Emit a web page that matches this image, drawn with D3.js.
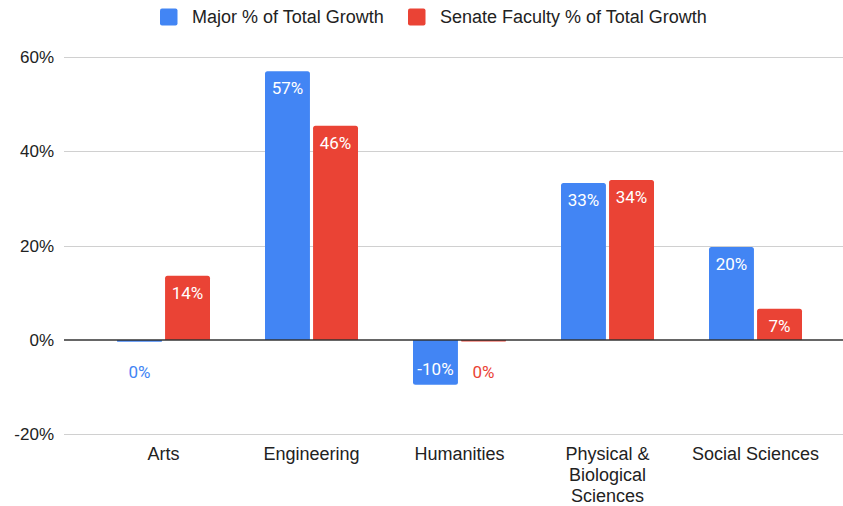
<!DOCTYPE html>
<html>
<head>
<meta charset="utf-8">
<script src="https://cdn.jsdelivr.net/npm/d3@7"></script>
<style>
  html, body { margin: 0; padding: 0; background: #fff; }
  svg { display: block; }
</style>
</head>
<body>
<svg id="chart" width="843" height="506"></svg>
<script>
// Share of total growth by division
const categories = ["Arts", "Engineering", "Humanities", "Physical & Biological Sciences", "Social Sciences"];
const categoryLines = [["Arts"], ["Engineering"], ["Humanities"], ["Physical &", "Biological", "Sciences"], ["Social Sciences"]];
const seriesNames = ["Major % of Total Growth", "Senate Faculty % of Total Growth"];
const majorValues = [-0.4, 57.0, -9.5, 33.3, 19.7];
const facultyValues = [13.6, 45.4, -0.2, 33.9, 6.6];
const labels = {
  major: ["0%", "57%", "-10%", "33%", "20%"],
  faculty: ["14%", "46%", "0%", "34%", "7%"]
};
const yTicks = [-20, 0, 20, 40, 60];
const colors = ["#4285F4", "#EA4335"];

const svg = d3.select("#chart");
const axisFont = "'Liberation Sans', Arial, sans-serif";
const labelFont = "Roboto, 'Noto Sans', sans-serif";

const y = d3.scaleLinear().domain([-20, 60]).range([434.3, 57]);
const x = d3.scaleBand().domain(categories).range([89.5, 829.5]).paddingInner(0).paddingOuter(0);
const xs = d3.scaleBand().domain([0, 1]).range([-46.5, 46.5]).paddingInner(0.065);

// Gridlines
const gridLeft = 64, gridRight = 843;
svg.append("g").selectAll("line").data(yTicks.filter(t => t !== 0)).join("line")
  .attr("x1", gridLeft).attr("x2", gridRight)
  .attr("y1", d => Math.round(y(d)) + 0.5).attr("y2", d => Math.round(y(d)) + 0.5)
  .attr("stroke", "#d0d0d0").attr("stroke-width", 1);

// Y tick labels
svg.append("g").selectAll("text").data(yTicks).join("text")
  .attr("x", 54).attr("y", d => y(d))
  .attr("dy", "0.35em")
  .attr("text-anchor", "end")
  .attr("font-family", axisFont).attr("font-size", 17).attr("fill", "#222")
  .text(d => d + "%");

// Bars
const rows = categories.map((c, i) => ({ c, i, vals: [majorValues[i], facultyValues[i]], labs: [labels.major[i], labels.faculty[i]] }));
const flat = [];
rows.forEach(r => r.vals.forEach((v, s) => flat.push({ c: r.c, s, v, lab: r.labs[s] })));

function barPath(x0, w, v) {
  const y0 = y(0), y1 = y(v);
  const h = Math.max(Math.abs(y1 - y0), 1.5);
  const r = Math.min(2.5, h / 2, w / 2);
  if (v >= 0) {
    return `M${x0},${y0} V${y0 - h + r} Q${x0},${y0 - h} ${x0 + r},${y0 - h} H${x0 + w - r} Q${x0 + w},${y0 - h} ${x0 + w},${y0 - h + r} V${y0} Z`;
  } else {
    return `M${x0},${y0} V${y0 + h - r} Q${x0},${y0 + h} ${x0 + r},${y0 + h} H${x0 + w - r} Q${x0 + w},${y0 + h} ${x0 + w},${y0 + h - r} V${y0} Z`;
  }
}

svg.append("g").selectAll("path").data(flat).join("path")
  .attr("d", d => barPath(x(d.c) + x.bandwidth() / 2 + xs(d.s), xs.bandwidth(), d.v))
  .attr("fill", d => colors[d.s]);

// Zero line
svg.append("line")
  .attr("x1", gridLeft).attr("x2", gridRight)
  .attr("y1", y(0)).attr("y2", y(0))
  .attr("stroke", "#333").attr("stroke-width", 1.3);

// Value labels
svg.append("g").selectAll("text").data(flat).join("text")
  .attr("x", d => x(d.c) + x.bandwidth() / 2 + xs(d.s) + xs.bandwidth() / 2)
  .attr("y", d => {
    const h = Math.abs(y(d.v) - y(0));
    if (h > 25) return d.v >= 0 ? y(d.v) + 17 : y(d.v) - 16;
    return d.v >= 0 ? y(d.v) - 16 : y(0) + 32;
  })
  .attr("dy", "0.35em")
  .attr("text-anchor", "middle")
  .attr("font-family", labelFont).attr("font-size", 17)
  .attr("fill", d => Math.abs(y(d.v) - y(0)) > 25 ? "#fff" : colors[d.s])
  .text(d => d.lab);

// Category labels
const catG = svg.append("g").selectAll("text").data(categories).join("text")
  .attr("x", d => x(d) + x.bandwidth() / 2)
  .attr("y", 454)
  .attr("text-anchor", "middle")
  .attr("font-family", axisFont).attr("font-size", 18).attr("fill", "#222");
catG.each(function(d, i) {
  d3.select(this).selectAll("tspan").data(categoryLines[i]).join("tspan")
    .attr("x", x(d) + x.bandwidth() / 2)
    .attr("dy", (t, j) => j === 0 ? "0.35em" : "21")
    .text(t => t);
});

// Legend
const legend = svg.append("g");
const legendItems = [{ x: 160, name: seriesNames[0], c: colors[0] }, { x: 408, name: seriesNames[1], c: colors[1] }];
legendItems.forEach(it => {
  legend.append("rect").attr("x", it.x).attr("y", 8.5).attr("width", 17.5).attr("height", 17)
    .attr("rx", 2).attr("fill", it.c);
  legend.append("text").attr("x", it.x + 32).attr("y", 17).attr("dy", "0.35em")
    .attr("font-family", axisFont).attr("font-size", 18).attr("fill", "#222")
    .text(it.name);
});
</script>
</body>
</html>
